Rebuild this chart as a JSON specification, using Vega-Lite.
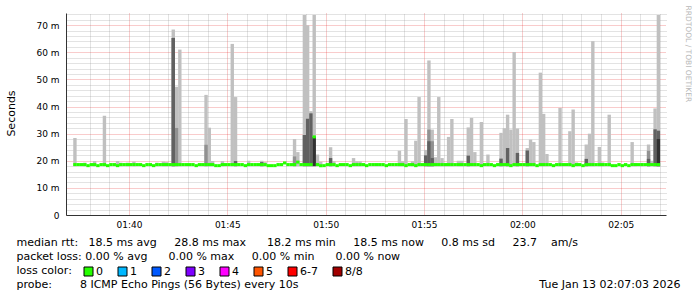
{
"$schema": "https://vega.github.io/schema/vega-lite/v6.json",
"width": 600, "height": 202,
"autosize": {"type": "none"},
"padding": {"left": 66, "top": 13, "right": 31, "bottom": 82},
"background": "white",
"config": {"view": {"stroke": null}, "font": "DejaVu Sans"},
"data": {"format": {"parse": {"t": "date:'%H:%M:%S'"}}, "values": [
{"t":"01:37:15","m":18.6,"a":28.4},{"t":"01:37:25","m":18.6},{"t":"01:37:35","m":18.6},{"t":"01:37:45","m":18.6,"a":19.3},{"t":"01:37:55","m":18.2},
{"t":"01:38:05","m":18.6},{"t":"01:38:15","m":18.6,"a":19.9},{"t":"01:38:25","m":18.2},{"t":"01:38:35","m":18.6},{"t":"01:38:45","m":18.6,"a":36.6},{"t":"01:38:55","m":18.2},
{"t":"01:39:05","m":18.6},{"t":"01:39:15","m":18.6},{"t":"01:39:25","m":18.2,"a":19.9},{"t":"01:39:35","m":18.6,"a":19.3},{"t":"01:39:45","m":18.6},{"t":"01:39:55","m":18.6,"a":19.3},
{"t":"01:40:05","m":18.6},{"t":"01:40:15","m":18.6,"a":19.7},{"t":"01:40:25","m":18.6},{"t":"01:40:35","m":18.6},{"t":"01:40:45","m":18.2},{"t":"01:40:55","m":18.6},
{"t":"01:41:05","m":18.6},{"t":"01:41:15","m":18.2},{"t":"01:41:25","m":18.6,"a":19.3},{"t":"01:41:35","m":18.6},{"t":"01:41:45","m":18.6,"a":19.7},{"t":"01:41:55","m":18.6,"a":19.5},
{"t":"01:42:05","m":18.6},{"t":"01:42:15","m":18.6,"a":68.4,"b":65.3,"c":65.3},{"t":"01:42:25","m":18.6,"a":47.3,"b":32.1},{"t":"01:42:35","m":18.6,"a":61.0},{"t":"01:42:45","m":18.6},{"t":"01:42:55","m":18.6},
{"t":"01:43:05","m":18.6},{"t":"01:43:15","m":18.6},{"t":"01:43:25","m":18.2},{"t":"01:43:35","m":18.6},{"t":"01:43:45","m":18.6},{"t":"01:43:55","m":18.6,"a":44.3,"b":25.9},
{"t":"01:44:05","m":18.6,"a":32.2},{"t":"01:44:15","m":18.6,"a":19.9},{"t":"01:44:25","m":18.2},{"t":"01:44:35","m":18.2},{"t":"01:44:45","m":18.6,"a":19.9},{"t":"01:44:55","m":18.6},
{"t":"01:45:05","m":18.6},{"t":"01:45:15","m":18.6,"a":63.1},{"t":"01:45:25","m":18.6,"a":43.5,"c":19.9},{"t":"01:45:35","m":18.6},{"t":"01:45:45","m":18.6},{"t":"01:45:55","m":18.2},
{"t":"01:46:05","m":18.6,"a":20.0},{"t":"01:46:15","m":18.6},{"t":"01:46:25","m":18.6},{"t":"01:46:35","m":18.6},{"t":"01:46:45","m":18.6,"a":20.0,"c":19.5},{"t":"01:46:55","m":18.6,"a":19.5},
{"t":"01:47:05","m":18.2},{"t":"01:47:15","m":18.2},{"t":"01:47:25","m":18.2},{"t":"01:47:35","m":18.6},{"t":"01:47:45","m":18.6},{"t":"01:47:55","m":19.2},
{"t":"01:48:05","m":18.6},{"t":"01:48:15","m":18.6},{"t":"01:48:25","m":18.6,"a":28.0,"b":21.6},{"t":"01:48:35","m":19.5,"a":23.2},{"t":"01:48:45","m":18.6},{"t":"01:48:55","m":18.6,"a":73.8,"c":29.5},
{"t":"01:49:05","m":18.6,"a":70.0,"c":35.5},{"t":"01:49:15","m":18.6,"a":38.3,"c":37.5},{"t":"01:49:25","m":28.8,"a":73.8,"d":28.8},{"t":"01:49:35","m":18.6,"a":22.3},{"t":"01:49:45","m":18.2,"a":19.6},{"t":"01:49:55","m":18.2},
{"t":"01:50:05","m":18.6},{"t":"01:50:15","m":18.6,"a":25.0,"c":21.0},{"t":"01:50:25","m":18.6,"a":19.8},{"t":"01:50:35","m":18.2},{"t":"01:50:45","m":18.6},{"t":"01:50:55","m":18.6},
{"t":"01:51:05","m":18.6},{"t":"01:51:15","m":18.2},{"t":"01:51:25","m":18.6,"a":21.0},{"t":"01:51:35","m":18.6,"a":19.8},{"t":"01:51:45","m":18.6,"a":19.8},{"t":"01:51:55","m":18.6},
{"t":"01:52:05","m":18.2},{"t":"01:52:15","m":18.6},{"t":"01:52:25","m":18.6},{"t":"01:52:35","m":18.6},{"t":"01:52:45","m":18.6},{"t":"01:52:55","m":18.6},
{"t":"01:53:05","m":18.2},{"t":"01:53:15","m":18.6},{"t":"01:53:25","m":18.6},{"t":"01:53:35","m":18.6},{"t":"01:53:45","m":18.6,"a":23.7},{"t":"01:53:55","m":18.6,"a":19.8},
{"t":"01:54:05","m":18.2,"a":35.4},{"t":"01:54:15","m":18.6},{"t":"01:54:25","m":18.6,"a":19.8},{"t":"01:54:35","m":18.2,"a":27.4},{"t":"01:54:45","m":18.6,"a":43.5},{"t":"01:54:55","m":18.6},
{"t":"01:55:05","m":18.6,"a":24.0,"c":22.0},{"t":"01:55:15","m":18.6,"a":57.0,"b":31.5,"c":27.2},{"t":"01:55:25","m":18.6,"a":31.5,"b":27.2,"c":21.0},{"t":"01:55:35","m":18.6,"a":21.3},{"t":"01:55:45","m":18.6,"a":43.5},{"t":"01:55:55","m":18.6,"a":21.0},
{"t":"01:56:05","m":18.6,"a":19.2},{"t":"01:56:15","m":18.6,"a":28.8},{"t":"01:56:25","m":18.6,"a":35.4},{"t":"01:56:35","m":18.6},{"t":"01:56:45","m":18.6,"a":20.0},{"t":"01:56:55","m":18.6,"a":20.0},
{"t":"01:57:05","m":18.6},{"t":"01:57:15","m":18.6,"a":32.3,"c":21.9},{"t":"01:57:25","m":18.6,"a":35.8},{"t":"01:57:35","m":18.6,"a":23.2},{"t":"01:57:45","m":18.6},{"t":"01:57:55","m":18.2,"a":34.3},
{"t":"01:58:05","m":18.6},{"t":"01:58:15","m":18.6,"a":22.3},{"t":"01:58:25","m":18.6},{"t":"01:58:35","m":18.2},{"t":"01:58:45","m":18.6},{"t":"01:58:55","m":18.6,"a":30.3,"c":20.8},
{"t":"01:59:05","m":18.6,"a":32.0},{"t":"01:59:15","m":18.6,"a":37.0,"c":24.7},{"t":"01:59:25","m":18.2,"a":31.5},{"t":"01:59:35","m":18.6,"a":60.1},{"t":"01:59:45","m":18.6,"a":31.9,"c":22.9},{"t":"01:59:55","m":18.6},
{"t":"02:00:05","m":18.6},{"t":"02:00:15","m":18.6,"a":24.7,"c":23.8},{"t":"02:00:25","m":18.6,"a":27.8},{"t":"02:00:35","m":18.6,"a":26.9},{"t":"02:00:45","m":18.2},{"t":"02:00:55","m":18.6,"a":52.5},
{"t":"02:01:05","m":18.6,"a":37.3},{"t":"02:01:15","m":18.6,"a":22.5},{"t":"02:01:25","m":18.6},{"t":"02:01:35","m":18.2},{"t":"02:01:45","m":18.6},{"t":"02:01:55","m":18.6,"a":39.5},
{"t":"02:02:05","m":18.6},{"t":"02:02:15","m":18.6},{"t":"02:02:25","m":18.6,"a":30.9},{"t":"02:02:35","m":18.2,"a":38.9},{"t":"02:02:45","m":18.6,"a":19.4},{"t":"02:02:55","m":18.6},
{"t":"02:03:05","m":18.2},{"t":"02:03:15","m":18.6,"a":26.0,"c":20.7},{"t":"02:03:25","m":18.6,"a":30.0},{"t":"02:03:35","m":18.6,"a":64.1},{"t":"02:03:45","m":18.6},{"t":"02:03:55","m":18.6,"a":25.1},
{"t":"02:04:05","m":18.6,"a":19.4},{"t":"02:04:15","m":18.6},{"t":"02:04:25","m":18.6,"a":37.0},{"t":"02:04:35","m":18.2},{"t":"02:04:45","m":18.2},{"t":"02:04:55","m":18.6},
{"t":"02:05:05","m":18.2},{"t":"02:05:15","m":18.6},{"t":"02:05:25","m":18.2},{"t":"02:05:35","m":18.6,"a":26.9},{"t":"02:05:45","m":18.6,"a":19.2},{"t":"02:05:55","m":18.6},
{"t":"02:06:05","m":18.6,"a":19.2},{"t":"02:06:15","m":18.6},{"t":"02:06:25","m":18.6,"a":26.0,"b":23.7,"c":20.7},{"t":"02:06:35","m":18.6,"a":20.0},{"t":"02:06:45","m":18.6,"a":39.3,"c":31.6},{"t":"02:06:55","m":18.6,"a":73.8,"c":31.1,"d":28.0}
]},
"layer": [
{"mark": {"type": "bar", "width": 3.4, "color": "#c0c0c0"},
 "encoding": {
  "x": {"field": "t", "type": "temporal",
   "scale": {"domain": [{"year":1900,"month":1,"date":1,"hours":1,"minutes":37,"seconds":3},{"year":1900,"month":1,"date":1,"hours":2,"minutes":7,"seconds":3}]},
   "axis": {"orient": "bottom", "format": "%H:%M",
    "values": [{"year":1900,"month":1,"date":1,"hours":1,"minutes":40},{"year":1900,"month":1,"date":1,"hours":1,"minutes":45},{"year":1900,"month":1,"date":1,"hours":1,"minutes":50},{"year":1900,"month":1,"date":1,"hours":1,"minutes":55},{"year":1900,"month":1,"date":1,"hours":2,"minutes":0},{"year":1900,"month":1,"date":1,"hours":2,"minutes":5}],
    "grid": true, "gridColor": "#e41b1b", "gridOpacity": 0.45, "gridDash": [1, 1],
    "ticks": false, "domain": true, "domainColor": "#333333",
    "labelFont": "DejaVu Sans", "labelFontSize": 9, "labelColor": "#000000", "labelPadding": 5, "labelFlush": false, "labelOverlap": false,
    "title": ["median rtt:\u00a0\u00a0\u00a018.5 ms avg\u00a0\u00a0\u00a0\u00a0\u00a028.8 ms max\u00a0\u00a0\u00a0\u00a0\u00a0\u00a018.2 ms min\u00a0\u00a0\u00a0\u00a0\u00a018.5 ms now\u00a0\u00a0\u00a0\u00a0\u00a00.8 ms sd\u00a0\u00a0\u00a0\u00a0\u00a023.7\u00a0\u00a0\u00a0\u00a0am/s",
              "packet loss: 0.00 % avg\u00a0\u00a0\u00a0\u00a0\u00a0\u00a00.00 % max\u00a0\u00a0\u00a0\u00a0\u00a00.00 % min\u00a0\u00a0\u00a0\u00a0\u00a0\u00a00.00 % now",
              "loss color:",
              "probe:\u00a0\u00a0\u00a0\u00a0\u00a0\u00a0\u00a0\u00a08 ICMP Echo Pings (56 Bytes) every 10s"],
    "titleX": -50, "titleY": 30.5, "titleAlign": "left", "titleAnchor": "start", "titleBaseline": "alphabetic",
    "titleFont": "DejaVu Sans", "titleFontSize": 11, "titleFontWeight": "normal", "titleColor": "#000000", "titleLineHeight": 14}},
  "y": {"field": "a", "type": "quantitative", "scale": {"domain": [0, 74.5]},
   "axis": {"orient": "left", "values": [0,10,20,30,40,50,60,70],
    "labelExpr": "datum.value == 0 ? '0' : datum.value + ' m'",
    "grid": true, "gridColor": "#e41b1b", "gridOpacity": 0.45, "gridDash": [1, 1],
    "ticks": false, "domain": true, "domainColor": "#333333",
    "labelFont": "DejaVu Sans", "labelFontSize": 9, "labelColor": "#000000", "labelPadding": 7,
    "title": "Seconds", "titleX": -55, "titleY": 100, "titleAngle": 270, "titleAlign": "center", "titleBaseline": "middle",
    "titleFont": "DejaVu Sans", "titleFontSize": 11, "titleFontWeight": "normal", "titleColor": "#000000"}},
  "y2": {"datum": 18}}},
{"mark": {"type": "bar", "width": 3.4, "color": "#919191"},
 "encoding": {
  "x": {"field": "t", "type": "temporal",
   "scale": {"domain": [{"year":1900,"month":1,"date":1,"hours":1,"minutes":37,"seconds":3},{"year":1900,"month":1,"date":1,"hours":2,"minutes":7,"seconds":3}]},
   "axis": {"orient": "top",
    "values": [{"year":1900,"month":1,"date":1,"hours":1,"minutes":38},{"year":1900,"month":1,"date":1,"hours":1,"minutes":39},{"year":1900,"month":1,"date":1,"hours":1,"minutes":41},{"year":1900,"month":1,"date":1,"hours":1,"minutes":42},{"year":1900,"month":1,"date":1,"hours":1,"minutes":43},{"year":1900,"month":1,"date":1,"hours":1,"minutes":44},{"year":1900,"month":1,"date":1,"hours":1,"minutes":46},{"year":1900,"month":1,"date":1,"hours":1,"minutes":47},{"year":1900,"month":1,"date":1,"hours":1,"minutes":48},{"year":1900,"month":1,"date":1,"hours":1,"minutes":49},{"year":1900,"month":1,"date":1,"hours":1,"minutes":51},{"year":1900,"month":1,"date":1,"hours":1,"minutes":52},{"year":1900,"month":1,"date":1,"hours":1,"minutes":53},{"year":1900,"month":1,"date":1,"hours":1,"minutes":54},{"year":1900,"month":1,"date":1,"hours":1,"minutes":56},{"year":1900,"month":1,"date":1,"hours":1,"minutes":57},{"year":1900,"month":1,"date":1,"hours":1,"minutes":58},{"year":1900,"month":1,"date":1,"hours":1,"minutes":59},{"year":1900,"month":1,"date":1,"hours":2,"minutes":1},{"year":1900,"month":1,"date":1,"hours":2,"minutes":2},{"year":1900,"month":1,"date":1,"hours":2,"minutes":3},{"year":1900,"month":1,"date":1,"hours":2,"minutes":4},{"year":1900,"month":1,"date":1,"hours":2,"minutes":6},{"year":1900,"month":1,"date":1,"hours":2,"minutes":7}],
    "grid": true, "gridColor": "#8f8f8f", "gridOpacity": 0.5, "gridDash": [1, 1],
    "labels": false, "ticks": false, "domain": false,
    "title": "Tue Jan 13 02:07:03 2026", "titleX": 614, "titleY": 274, "titleAlign": "right", "titleBaseline": "alphabetic",
    "titleFont": "DejaVu Sans", "titleFontSize": 11, "titleFontWeight": "normal", "titleColor": "#000000"}},
  "y": {"field": "b", "type": "quantitative", "scale": {"domain": [0, 74.5]},
   "axis": {"orient": "right", "values": [2,4,6,8,12,14,16,18,22,24,26,28,32,34,36,38,42,44,46,48,52,54,56,58,62,64,66,68,72,74],
    "grid": true, "gridColor": "#8f8f8f", "gridOpacity": 0.5, "gridDash": [1, 1],
    "labels": false, "ticks": false, "domain": false,
    "title": "RRDTOOL / TOBI OETIKER", "titleX": 21, "titleY": -8, "titleAngle": 90, "titleAlign": "left", "titleBaseline": "middle",
    "titleFont": "DejaVu Sans", "titleFontSize": 7.5, "titleFontWeight": "normal", "titleColor": "#b8b8b8"}},
  "y2": {"datum": 18}}},
{"mark": {"type": "bar", "width": 3.4, "color": "#616161"},
 "encoding": {
  "x": {"field": "t", "type": "temporal", "axis": null,
   "scale": {"domain": [{"year":1900,"month":1,"date":1,"hours":1,"minutes":37,"seconds":3},{"year":1900,"month":1,"date":1,"hours":2,"minutes":7,"seconds":3}]}},
  "y": {"field": "c", "type": "quantitative", "axis": null, "scale": {"domain": [0, 74.5]}},
  "y2": {"datum": 18}}},
{"mark": {"type": "bar", "width": 3.4, "color": "#323232"},
 "encoding": {
  "x": {"field": "t", "type": "temporal", "axis": null,
   "scale": {"domain": [{"year":1900,"month":1,"date":1,"hours":1,"minutes":37,"seconds":3},{"year":1900,"month":1,"date":1,"hours":2,"minutes":7,"seconds":3}]}},
  "y": {"field": "d", "type": "quantitative", "axis": null, "scale": {"domain": [0, 74.5]}},
  "y2": {"datum": 18}}},
{"mark": {"type": "tick", "orient": "horizontal", "thickness": 3, "size": 3.4, "opacity": 1},
 "encoding": {
  "x": {"field": "t", "type": "temporal", "axis": null,
   "scale": {"domain": [{"year":1900,"month":1,"date":1,"hours":1,"minutes":37,"seconds":3},{"year":1900,"month":1,"date":1,"hours":2,"minutes":7,"seconds":3}]}},
  "y": {"field": "m", "type": "quantitative", "axis": null, "scale": {"domain": [0, 74.5]}},
  "color": {"datum": "0", "type": "nominal",
   "scale": {"domain": ["0","1","2","3","4","5","6-7","8/8"], "range": ["#26ff00","#00b8ff","#0059ff","#7e00ff","#ff00ff","#ff5500","#ff0000","#a10000"]},
   "legend": {"orient": "none", "legendX": 17, "legendY": 253, "direction": "horizontal", "columns": 8, "gridAlign": "none", "title": null,
    "symbolType": "square", "symbolSize": 81, "symbolStrokeColor": "#000000", "symbolStrokeWidth": 1, "symbolOpacity": 1,
    "labelFont": "DejaVu Sans", "labelFontSize": 11, "labelColor": "#000000", "labelOffset": 2, "columnPadding": 13, "padding": 0}}}}
],
"resolve": {"axis": {"x": "independent", "y": "independent"}}
}
